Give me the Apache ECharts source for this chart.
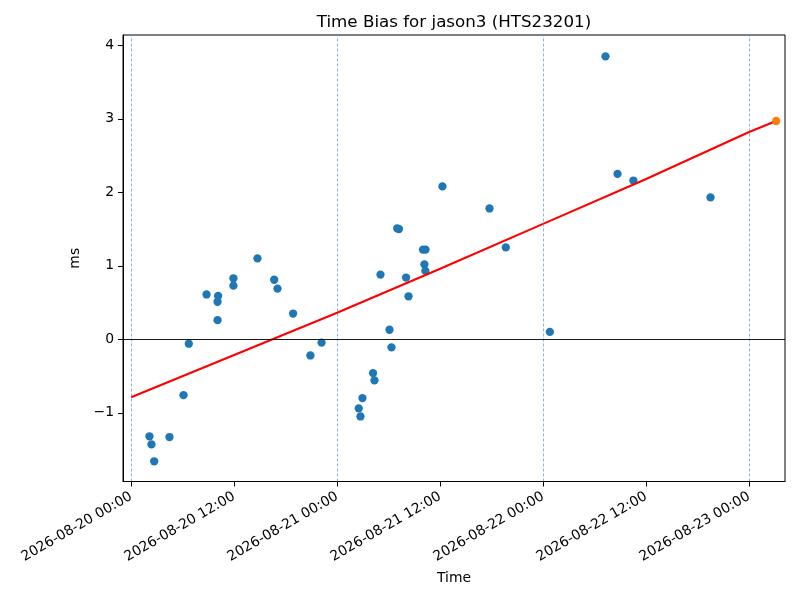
<!DOCTYPE html>
<html style="height: 100%;width: 100%">
<head>
    <meta charset="UTF-8">
    <script type="text/javascript" src="https://cdn.jsdelivr.net/npm/echarts@6/dist/echarts.min.js"></script>
    <title>Time Bias</title>
    <style>
    html, body { margin: 0; padding: 0; background: #fff; }
</style>
</head>
<body style="width: 100%;height: 100%;">
<div id="main" style="width: 800px;height:600px;"></div>
<script type="text/javascript">
    // 观测点：时间 (UTC) 与 时间偏差 (ms)
    var obsTimes = [
        '2026-08-20 02:08', '2026-08-20 02:22', '2026-08-20 02:41', '2026-08-20 04:28',
        '2026-08-20 06:06', '2026-08-20 06:43', '2026-08-20 08:47', '2026-08-20 10:08',
        '2026-08-20 10:04', '2026-08-20 10:04', '2026-08-20 11:55', '2026-08-20 11:55',
        '2026-08-20 14:43', '2026-08-20 16:40', '2026-08-20 17:03', '2026-08-20 18:52',
        '2026-08-20 20:53', '2026-08-20 22:11',
        '2026-08-21 02:31', '2026-08-21 02:43', '2026-08-21 02:57', '2026-08-21 04:11',
        '2026-08-21 04:21', '2026-08-21 05:03', '2026-08-21 06:06', '2026-08-21 06:20',
        '2026-08-21 07:00', '2026-08-21 07:12', '2026-08-21 08:02', '2026-08-21 08:19',
        '2026-08-21 10:00', '2026-08-21 10:18', '2026-08-21 10:10', '2026-08-21 10:17',
        '2026-08-21 12:16', '2026-08-21 17:45', '2026-08-21 19:39',
        '2026-08-22 00:47', '2026-08-22 07:16', '2026-08-22 08:40', '2026-08-22 10:31',
        '2026-08-22 19:30'
    ];
    var obsBias = [
        -1.32, -1.43, -1.66, -1.33,
        -0.76, -0.06, 0.61, 0.59,
        0.51, 0.26, 0.83, 0.73,
        1.10, 0.81, 0.69, 0.35,
        -0.22, -0.045,
        -0.94, -1.05, -0.80, -0.46,
        -0.56, 0.88, 0.13, -0.11,
        1.51, 1.50, 0.84, 0.585,
        1.22, 1.22, 1.02, 0.93,
        2.08, 1.78, 1.25,
        0.10, 3.85, 2.25, 2.16,
        1.93
    ];
    // 预测点
    var predTimes = ['2026-08-23 03:09'];
    var predBias = [2.97];
    // 拟合线
    var fitTimes = ['2026-08-20 00:00', '2026-08-20 12:00', '2026-08-21 00:00', '2026-08-21 12:00',
                    '2026-08-22 00:00', '2026-08-22 12:00', '2026-08-23 00:00', '2026-08-23 03:09'];
    var fitBias = [-0.79, -0.215, 0.36, 0.96, 1.57, 2.18, 2.82, 2.97];
    // 刻度
    var xTicks = ['2026-08-20 00:00', '2026-08-20 12:00', '2026-08-21 00:00', '2026-08-21 12:00',
                  '2026-08-22 00:00', '2026-08-22 12:00', '2026-08-23 00:00'];
    var dayLines = ['2026-08-20 00:00', '2026-08-21 00:00', '2026-08-22 00:00', '2026-08-23 00:00'];
    var yTicks = [-1, 0, 1, 2, 3, 4];

    function toMs(s) {
        var p = s.split(/[- :]/);
        return Date.UTC(+p[0], +p[1] - 1, +p[2], +p[3], +p[4]);
    }
    function pad(n) { return (n < 10 ? '0' : '') + n; }
    function fmtTime(v) {
        var d = new Date(v);
        return d.getUTCFullYear() + '-' + pad(d.getUTCMonth() + 1) + '-' + pad(d.getUTCDate()) +
            ' ' + pad(d.getUTCHours()) + ':' + pad(d.getUTCMinutes());
    }
    function zip(ts, vs) {
        return ts.map(function (t, i) { return [toMs(t), vs[i]]; });
    }

    var HOUR = 3600 * 1000;
    var t0 = toMs('2026-08-20 00:00');
    var font = 'DejaVu Sans';

    var myChart = echarts.init(document.getElementById('main'));
    var option = {
        animation: false,
        backgroundColor: '#fff',
        textStyle: { fontFamily: font },
        title: {
            text: 'Time Bias for jason3 (HTS23201)',
            left: 449,
            top: 9,
            textAlign: 'center',
            textStyle: { fontFamily: font, fontSize: 16.7, fontWeight: 'normal', color: '#000' }
        },
        grid: {
            left: 123, right: 15, top: 35, bottom: 118.5,
            show: true, borderColor: '#000', borderWidth: 1, backgroundColor: 'transparent'
        },
        xAxis: {
            type: 'value',
            min: t0 - 0.95 * HOUR,
            max: t0 + 76.18 * HOUR,
            name: 'Time',
            nameLocation: 'middle',
            nameGap: 90,
            nameTextStyle: { fontFamily: font, fontSize: 13.9, color: '#000' },
            axisLine: { show: true, onZero: false, lineStyle: { color: '#000', width: 1 } },
            axisTick: { show: true, length: 5, lineStyle: { color: '#000' }, customValues: xTicks.map(toMs) },
            axisLabel: {
                rotate: 30, margin: 14, fontSize: 13.9, color: '#000', fontFamily: font,
                customValues: xTicks.map(toMs),
                formatter: function (v) { return fmtTime(v); }
            },
            splitLine: { show: false }
        },
        yAxis: {
            type: 'value',
            min: -1.935,
            max: 4.14,
            name: 'ms',
            nameLocation: 'middle',
            nameGap: 30,
            nameTextStyle: { fontFamily: font, fontSize: 13.9, color: '#000' },
            axisLine: { show: true, onZero: false, lineStyle: { color: '#000', width: 1 } },
            axisTick: { show: true, length: 5, lineStyle: { color: '#000' }, customValues: yTicks },
            axisLabel: {
                margin: 9, fontSize: 13.9, color: '#000', fontFamily: font,
                customValues: yTicks,
                formatter: function (v) { return v < 0 ? '\u2212' + Math.abs(v) : String(v); }
            },
            splitLine: { show: false }
        },
        series: [
            {
                name: 'guides',
                type: 'line',
                data: [],
                z: 1,
                markLine: {
                    silent: true,
                    symbol: 'none',
                    label: { show: false },
                    animation: false,
                    data: dayLines.map(function (t) {
                        return { xAxis: toMs(t), lineStyle: { color: '#5b8fc4', width: 0.7, type: [3, 2] } };
                    }).concat([{ yAxis: 0, lineStyle: { color: '#000', width: 0.9, type: 'solid' } }])
                }
            },
            {
                name: 'bias',
                type: 'scatter',
                symbolSize: 8.3,
                itemStyle: { color: '#1f77b4', opacity: 1 },
                data: zip(obsTimes, obsBias),
                z: 2
            },
            {
                name: 'fit',
                type: 'line',
                showSymbol: false,
                lineStyle: { color: '#ff0000', width: 2.1 },
                data: zip(fitTimes, fitBias),
                z: 3
            },
            {
                name: 'prediction',
                type: 'scatter',
                symbolSize: 8.3,
                itemStyle: { color: '#ff7f0e', opacity: 1 },
                data: zip(predTimes, predBias),
                z: 4
            }
        ]
    };
    myChart.setOption(option);
</script>
</body>
</html>
